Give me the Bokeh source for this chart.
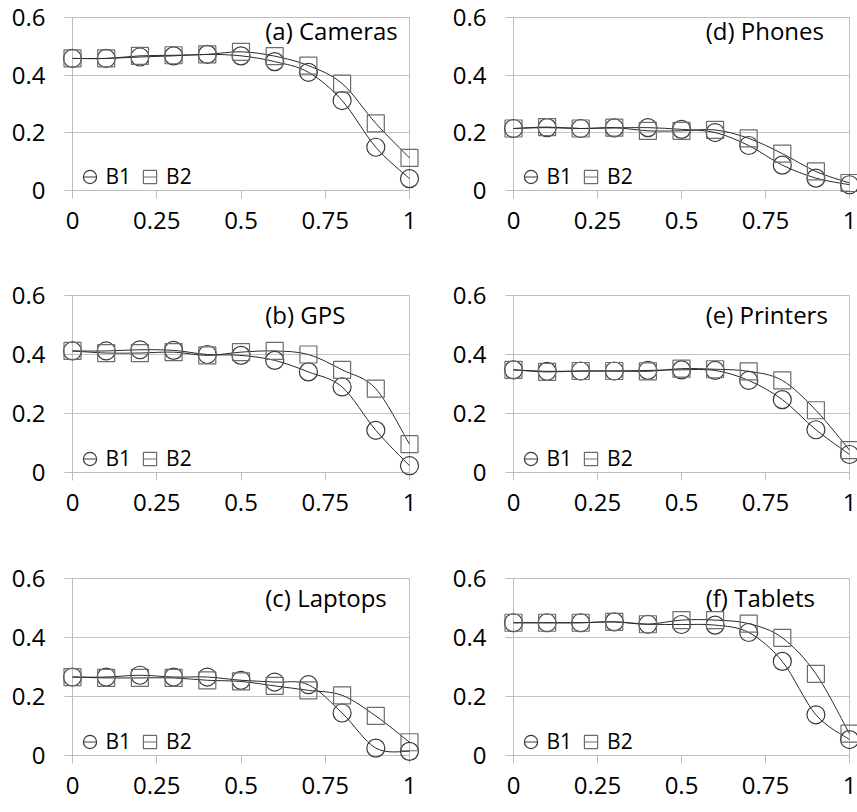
from bokeh.plotting import figure
from bokeh.layouts import column, row
from bokeh.models import (ColumnDataSource, Legend, LegendItem, Label,
                          FixedTicker, Range1d)
from bokeh.embed import file_html
from bokeh.resources import INLINE

# ---- data -------------------------------------------------------------
x_vals = [0.0, 0.1, 0.2, 0.3, 0.4, 0.5, 0.6, 0.7, 0.8, 0.9, 1.0]

x_ticks = [0, 0.25, 0.5, 0.75, 1]
x_tick_labels = ["0", "0.25", "0.5", "0.75", "1"]
y_ticks = [0, 0.2, 0.4, 0.6]
y_tick_labels = ["0", "0.2", "0.4", "0.6"]

series_names = ["B1", "B2"]

cameras_b1 = [0.458, 0.458, 0.463, 0.467, 0.472, 0.467, 0.447, 0.410, 0.312, 0.150, 0.041]
cameras_b2 = [0.458, 0.458, 0.467, 0.469, 0.472, 0.481, 0.466, 0.433, 0.371, 0.233, 0.113]

gps_b1 = [0.412, 0.412, 0.416, 0.414, 0.400, 0.397, 0.380, 0.341, 0.290, 0.143, 0.023]
gps_b2 = [0.412, 0.405, 0.405, 0.408, 0.397, 0.408, 0.412, 0.400, 0.348, 0.284, 0.096]

laptops_b1 = [0.266, 0.266, 0.272, 0.266, 0.266, 0.255, 0.249, 0.240, 0.144, 0.025, 0.014]
laptops_b2 = [0.266, 0.263, 0.263, 0.263, 0.255, 0.251, 0.236, 0.221, 0.204, 0.134, 0.045]

phones_b1 = [0.215, 0.218, 0.215, 0.217, 0.218, 0.212, 0.201, 0.156, 0.088, 0.043, 0.020]
phones_b2 = [0.215, 0.220, 0.215, 0.218, 0.207, 0.207, 0.210, 0.181, 0.128, 0.066, 0.026]

printers_b1 = [0.348, 0.343, 0.344, 0.344, 0.346, 0.348, 0.346, 0.312, 0.247, 0.145, 0.061]
printers_b2 = [0.348, 0.341, 0.344, 0.344, 0.343, 0.352, 0.350, 0.343, 0.312, 0.211, 0.076]

tablets_b1 = [0.450, 0.450, 0.450, 0.453, 0.445, 0.444, 0.442, 0.417, 0.319, 0.138, 0.054]
tablets_b2 = [0.450, 0.450, 0.450, 0.453, 0.445, 0.459, 0.459, 0.447, 0.399, 0.277, 0.074]

panel_titles = ["(a) Cameras", "(d) Phones", "(b) GPS", "(e) Printers",
                "(c) Laptops", "(f) Tablets"]
panel_series = [(cameras_b1, cameras_b2), (phones_b1, phones_b2),
                (gps_b1, gps_b2), (printers_b1, printers_b2),
                (laptops_b1, laptops_b2), (tablets_b1, tablets_b2)]

# ---- styling ----------------------------------------------------------
FONT = "Open Sans"
GRID = "#c4c4c4"
AXIS = "#bdbdbd"
B1_COLOR = "#3a3a3a"
B2_COLOR = "#6c6c6c"
CURVE = "#2a2a2a"

# per-row figure height, plot-frame height (px) and panel-title height (data)
ROW_HEIGHTS = [278, 283, 251]
FRAME_HEIGHTS = [173, 177, 177]
TITLE_Y = [0.556, 0.535, 0.535]
TOP_BORDER = 17


def smooth_segments(xs, ys, k=1 / 6):
    """Cubic Bezier pieces through consecutive points (Catmull-Rom tangents)."""
    n = len(xs)
    seg = dict(x0=[], y0=[], x1=[], y1=[], cx0=[], cy0=[], cx1=[], cy1=[])
    for i in range(n - 1):
        a = max(i - 1, 0)
        d = min(i + 2, n - 1)
        seg["x0"].append(xs[i])
        seg["y0"].append(ys[i])
        seg["x1"].append(xs[i + 1])
        seg["y1"].append(ys[i + 1])
        seg["cx0"].append(xs[i] + (xs[i + 1] - xs[a]) * k)
        seg["cy0"].append(ys[i] + (ys[i + 1] - ys[a]) * k)
        seg["cx1"].append(xs[i + 1] - (xs[d] - xs[i]) * k)
        seg["cy1"].append(ys[i + 1] - (ys[d] - ys[i]) * k)
    return seg


def make_panel(title, b1, b2, col, row_idx):
    width = 440 if col == 0 else 417
    border_right = 31 if col == 0 else 8
    border_left = 72 if col == 0 else 73
    height = ROW_HEIGHTS[row_idx]
    border_bottom = height - TOP_BORDER - FRAME_HEIGHTS[row_idx]

    p = figure(width=width, height=height, output_backend="svg",
               toolbar_location=None, tools="",
               x_range=Range1d(0, 1), y_range=Range1d(0, 0.6),
               min_border_left=border_left, min_border_right=border_right,
               min_border_top=TOP_BORDER, min_border_bottom=border_bottom,
               background_fill_color="white", border_fill_color="white",
               outline_line_color=AXIS, outline_line_width=1)

    # axes
    p.xaxis.ticker = FixedTicker(ticks=x_ticks)
    p.xaxis.major_label_overrides = dict(zip(x_ticks, x_tick_labels))
    p.yaxis.ticker = FixedTicker(ticks=y_ticks)
    p.yaxis.major_label_overrides = dict(zip(y_ticks, y_tick_labels))
    for ax in (p.xaxis, p.yaxis):
        ax.axis_line_color = AXIS
        ax.major_tick_line_color = AXIS
        ax.major_tick_out = 8
        ax.major_tick_in = 0
        ax.minor_tick_line_color = None
        ax.major_label_text_font = FONT
        ax.major_label_text_font_size = "24px"
        ax.major_label_text_color = "black"
    p.xaxis.major_label_standoff = 13
    p.yaxis.major_label_standoff = 19

    p.xgrid.visible = False
    p.ygrid.ticker = FixedTicker(ticks=[0.2, 0.4])
    p.ygrid.grid_line_color = GRID
    p.ygrid.grid_line_width = 1

    # smoothed curves
    for ys in (b1, b2):
        src = ColumnDataSource(smooth_segments(x_vals, ys))
        p.bezier(x0="x0", y0="y0", x1="x1", y1="y1", cx0="cx0", cy0="cy0",
                 cx1="cx1", cy1="cy1", source=src, line_color=CURVE,
                 line_width=1, level="overlay")

    # hollow markers
    r1 = p.scatter(x_vals, b1, marker="circle", size=18, fill_color=None,
                   line_color=B1_COLOR, line_width=1.2, level="overlay")
    r2 = p.scatter(x_vals, b2, marker="square", size=17, fill_color=None,
                   line_color=B2_COLOR, line_width=1.2, level="overlay")

    # legend keys: marker with a short stroke through it (strokes not plotted)
    nan = float("nan")
    d1 = p.scatter(x=[nan], y=[nan], marker="dash", line_color=B1_COLOR,
                   line_width=1)
    d2 = p.scatter(x=[nan], y=[nan], marker="dash", line_color=B2_COLOR,
                   line_width=1)
    legend = Legend(items=[LegendItem(label=series_names[0], renderers=[r1, d1]),
                           LegendItem(label=series_names[1], renderers=[r2, d2])],
                    orientation="horizontal", location=(0.5, -2.5),
                    glyph_width=33, glyph_height=33, label_standoff=-8,
                    spacing=2, padding=0, margin=0,
                    background_fill_alpha=0, border_line_color=None,
                    label_text_font=FONT, label_text_font_size="21px",
                    label_text_color="black")
    p.add_layout(legend)

    p.add_layout(Label(x=0.572, y=TITLE_Y[row_idx], text=title,
                       text_align="left", text_baseline="middle",
                       text_font=FONT, text_font_size="24px",
                       text_color="black"))
    return p


panels = []
for idx, (title, (b1, b2)) in enumerate(zip(panel_titles, panel_series)):
    panels.append(make_panel(title, b1, b2, idx % 2, idx // 2))

layout = column(row(panels[0], panels[1]),
                row(panels[2], panels[3]),
                row(panels[4], panels[5]))

open("out.html", "w").write(file_html(layout, INLINE))
